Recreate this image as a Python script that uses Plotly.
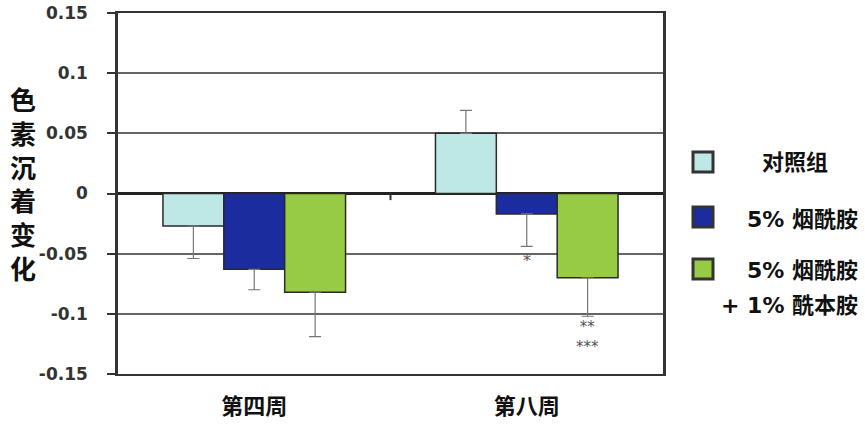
import plotly.graph_objects as go

categories = ["第四周", "第八周"]
series_names = ["对照组", "5% 烟酰胺", "5% 烟酰胺 + 1% 酰本胺"]
control_vals = [-0.027, 0.050]
control_err = [0.027, 0.019]
nia_vals = [-0.063, -0.017]
nia_err = [0.017, 0.027]
combo_vals = [-0.082, -0.070]
combo_err = [0.037, 0.032]
colors = ["#BEE8E6", "#1B2D9E", "#97CB43"]
tick_vals = [0.15, 0.1, 0.05, 0, -0.05, -0.1, -0.15]
tick_text = ["0.15", "0.1", "0.05", "0", "-0.05", "-0.1", "-0.15"]
y_title = "色素沉着变化"
sig_nia = "*"
sig_combo = "**<br>***"

BARGAP = 0.33
CJK = "Noto Sans CJK SC"
W, H = 865, 425
L, T = 118, 13
R, B = W - 663, H - 374
PW, PH = W - L - R, H - T - B

fig = go.Figure()
for name, vals, errs, col in zip(series_names, [control_vals, nia_vals, combo_vals],
                                 [control_err, nia_err, combo_err], colors):
    plus = [e if v > 0 else 0 for v, e in zip(vals, errs)]
    minus = [e if v < 0 else 0 for v, e in zip(vals, errs)]
    fig.add_trace(go.Bar(
        x=categories, y=vals, name=name, showlegend=False,
        marker=dict(color=col, line=dict(color="#2a2a2a", width=1.5)),
        error_y=dict(type="data", symmetric=False, array=plus, arrayminus=minus,
                     color="#777", thickness=1.2, width=6),
    ))

fig.update_layout(
    width=W, height=H,
    margin=dict(l=L, r=R, t=T, b=B, autoexpand=False),
    paper_bgcolor="white", plot_bgcolor="white",
    barmode="group", bargap=BARGAP, bargroupgap=0,
    font=dict(family="DejaVu Sans", color="#333"),
)
fig.update_yaxes(
    range=[-0.15, 0.15], tickvals=tick_vals, ticktext=tick_text, automargin=False,
    ticklabeloverflow="allow",
    showgrid=True, gridcolor="#666", gridwidth=1.5,
    zeroline=True, zerolinecolor="#222", zerolinewidth=2.5,
    showline=True, linecolor="#333", linewidth=2.5, mirror=True,
    ticks="outside", ticklen=8, tickcolor="#333", tickwidth=2,
    ticklabelstandoff=16,
    tickfont=dict(family="DejaVu Sans", size=17, color="#333", weight="bold"),
)
fig.update_xaxes(
    showline=True, linecolor="#333", linewidth=2, mirror=True, automargin=False,
    ticks="", showgrid=False, ticklabelstandoff=12,
    tickfont=dict(family=CJK, size=22, color="#111", weight="bold"),
)

# small category-separator tick on the zero line
fig.add_shape(type="line", xref="x", yref="y", x0=0.5, x1=0.5, y0=0, y1=-0.0055,
              line=dict(color="#333", width=2))


def px_x(px):
    return (px - L) / PW


def px_y(py):
    return 1 - (py - T) / PH


# y-axis title (vertical stacked characters)
fig.add_annotation(xref="paper", yref="paper", x=px_x(23), y=px_y(183),
                   text="<br>".join(y_title), showarrow=False,
                   xanchor="center", yanchor="middle",
                   font=dict(family=CJK, size=26, color="#111", weight="bold"))

# significance marks
bar_w = (1 - BARGAP) / 3
fig.add_annotation(x=1, y=nia_vals[1] - nia_err[1], text=sig_nia, showarrow=False,
                   xref="x", yref="y", yanchor="top", yshift=-3,
                   font=dict(family="DejaVu Sans", size=16, color="#555"))
fig.add_annotation(x=1 + bar_w, y=combo_vals[1] - combo_err[1], text=sig_combo, showarrow=False,
                   xref="x", yref="y", yanchor="top", yshift=0,
                   font=dict(family="DejaVu Sans", size=15, color="#555"))

# legend (manual)
legend_rows = [
    (162, [(830, series_names[0], 162)]),
    (217, [(860, "5% 烟酰胺", 219)]),
    (269, [(860, "5% 烟酰胺", 270), (860, "+ 1% 酰本胺", 305)]),
]
for (sq_y, texts), col in zip(legend_rows, colors):
    fig.add_shape(type="rect", xref="paper", yref="paper",
                  x0=px_x(693), x1=px_x(713), y0=px_y(sq_y - 10), y1=px_y(sq_y + 10),
                  fillcolor=col, line=dict(color="#333", width=3))
    for rx, t, ty in texts:
        fig.add_annotation(xref="paper", yref="paper", x=px_x(rx), y=px_y(ty),
                           text=t, showarrow=False, xanchor="right", yanchor="middle",
                           font=dict(family="DejaVu Sans, " + CJK, size=22, color="#111",
                                     weight="bold"))

fig.write_html("out.html", config={"displayModeBar": False},
               post_script="document.body.style.margin='0';")
